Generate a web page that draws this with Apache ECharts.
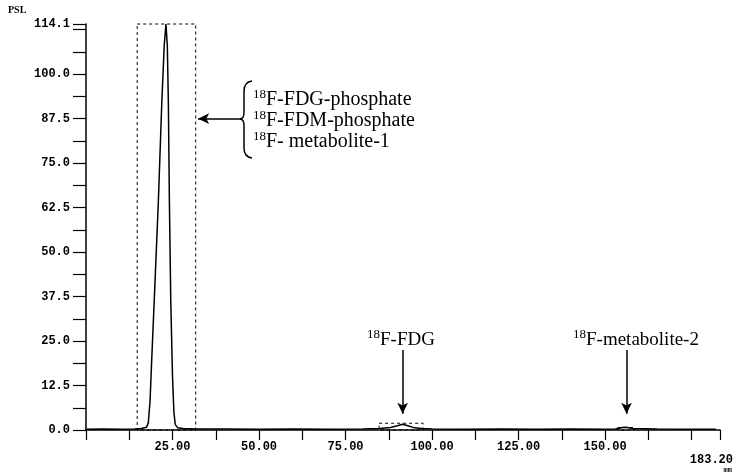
<!DOCTYPE html>
<html>
<head>
<meta charset="utf-8">
<script src="https://cdn.jsdelivr.net/npm/echarts@6/dist/echarts.min.js"></script>
<style>
html, body { margin: 0; padding: 0; background: #fff; }
#chart { width: 735px; height: 474px; }
</style>
</head>
<body>
<div id="chart"></div>
<script>
// position along the plate (mm) and counts (PSL)
var posMm = [0, 5, 10, 14, 16, 17.5, 18.0, 18.5, 19.0, 19.7, 20.9, 21.9, 22.6, 23.1, 23.5, 23.8, 24.1, 24.5, 25.0, 25.4, 25.8, 26.5, 28, 32, 40, 50, 60, 70, 80, 85, 88, 90, 91.5, 93, 95, 97, 100, 110, 120, 130, 140, 150, 153, 155, 156, 158, 165, 175, 182];
var psl   = [0.2, 0.3, 0.2, 0.3, 0.4, 0.8, 2, 8, 20, 36, 64, 92, 108, 114.1, 108, 92, 64, 36, 15, 5, 1.5, 0.6, 0.4, 0.3, 0.3, 0.2, 0.3, 0.2, 0.3, 0.4, 0.7, 1.2, 1.6, 1.2, 0.6, 0.4, 0.3, 0.2, 0.3, 0.2, 0.3, 0.2, 0.3, 0.7, 0.8, 0.4, 0.3, 0.2, 0.2];
var xLabels = [25, 50, 75, 100, 125, 150];
var yMax = 114.1;
var xMax = 183.2;

var chart = echarts.init(document.getElementById('chart'));
var points = posMm.map(function (x, i) { return [x, psl[i]]; });

var mono = '"Liberation Mono", "DejaVu Sans Mono", monospace';
var serif = '"Liberation Serif", "DejaVu Serif", serif';
var boxStyle = { color: 'transparent', borderColor: '#000', borderWidth: 1, borderType: [3, 3] };
var arrowLine = { color: '#000', width: 1.5, type: 'solid' };
var brace = { fill: 'none', stroke: '#000', lineWidth: 1.5 };

// "18F..." label: small raised "18" then the name
function isoLabel(x, yc, name, size) {
    var supSize = Math.round(size * 0.66);
    return [
        { type: 'text', x: x, y: yc - size * 0.27, style: { text: '18', fontFamily: serif, fontSize: supSize, fill: '#000', verticalAlign: 'middle' } },
        { type: 'text', x: x + supSize, y: yc, style: { text: name, fontFamily: serif, fontSize: size, fill: '#000', verticalAlign: 'middle' } }
    ];
}

var graphics = [
    { type: 'text', left: 8, top: 5, style: { text: 'PSL', fontFamily: serif, fontWeight: 'bold', fontSize: 10, fill: '#000' } },
    { type: 'text', right: 2, top: 454, style: { text: '183.20', fontFamily: mono, fontWeight: 'bold', fontSize: 12, fill: '#000' } },
    { type: 'text', right: 3, top: 467, style: { text: 'mm', fontFamily: mono, fontWeight: 'bold', fontSize: 7, fill: '#000' } },
    // curly brace
    { type: 'bezierCurve', shape: { x1: 252, y1: 81, x2: 244, y2: 91, cpx1: 244, cpy1: 82 }, style: brace },
    { type: 'line', shape: { x1: 244, y1: 91, x2: 244, y2: 112 }, style: brace },
    { type: 'bezierCurve', shape: { x1: 244, y1: 112, x2: 240, y2: 119, cpx1: 244, cpy1: 119 }, style: brace },
    { type: 'bezierCurve', shape: { x1: 240, y1: 119, x2: 244, y2: 126, cpx1: 244, cpy1: 119 }, style: brace },
    { type: 'line', shape: { x1: 244, y1: 126, x2: 244, y2: 148 }, style: brace },
    { type: 'bezierCurve', shape: { x1: 244, y1: 148, x2: 252, y2: 158, cpx1: 244, cpy1: 157 }, style: brace }
]
    .concat(isoLabel(253, 100, 'F-FDG-phosphate', 20))
    .concat(isoLabel(253, 121, 'F-FDM-phosphate', 20))
    .concat(isoLabel(253, 142, 'F- metabolite-1', 20))
    .concat(isoLabel(367, 340, 'F-FDG', 19))
    .concat(isoLabel(573, 340, 'F-metabolite-2', 19));

chart.setOption({
    animation: false,
    backgroundColor: '#fff',
    grid: { left: 86, right: 15, top: 24, bottom: 44 },
    xAxis: {
        type: 'value',
        min: 0,
        max: xMax,
        interval: 12.5,
        splitLine: { show: false },
        axisLine: { lineStyle: { color: '#000', width: 1.5 } },
        axisTick: { length: 10, lineStyle: { color: '#000', width: 1.2 } },
        axisLabel: {
            margin: 11,
            color: '#000',
            fontFamily: mono,
            fontWeight: 'bold',
            fontSize: 12,
            formatter: function (v) {
                return xLabels.indexOf(v) >= 0 ? v.toFixed(2) : '';
            }
        }
    },
    yAxis: {
        type: 'value',
        min: 0,
        max: yMax,
        interval: 6.25,
        splitLine: { show: false },
        axisLine: { show: true, lineStyle: { color: '#000', width: 1.5 } },
        axisTick: { length: 13, lineStyle: { color: '#000', width: 1.2 } },
        axisLabel: {
            margin: 16,
            color: '#000',
            fontFamily: mono,
            fontWeight: 'bold',
            fontSize: 12,
            formatter: function (v) {
                if (Math.abs(v - yMax) < 1e-6) return yMax.toFixed(1);
                if (v % 12.5 === 0 && v <= 100) return v.toFixed(1);
                return '';
            }
        }
    },
    series: [{
        type: 'line',
        data: points,
        symbol: 'none',
        lineStyle: { color: '#000', width: 1.5 },
        markArea: {
            silent: true,
            itemStyle: boxStyle,
            data: [
                [{ coord: [14.8, yMax] }, { coord: [31.7, 0] }],
                [{ coord: [84.7, 1.9] }, { coord: [97.4, 0] }],
                [{ coord: [153.7, 0.7] }, { coord: [158.6, 0] }]
            ]
        },
        markLine: {
            silent: true,
            symbol: ['none', 'arrow'],
            symbolSize: [8, 11],
            label: { show: false },
            lineStyle: arrowLine,
            data: [
                [{ coord: [44.5, 87.5] }, { coord: [32.4, 87.5] }],
                [{ coord: [91.5, 22.5] }, { coord: [91.5, 4.6] }],
                [{ coord: [156.2, 22.5] }, { coord: [156.2, 4.6] }]
            ]
        }
    }],
    graphic: graphics
});
</script>
</body>
</html>
